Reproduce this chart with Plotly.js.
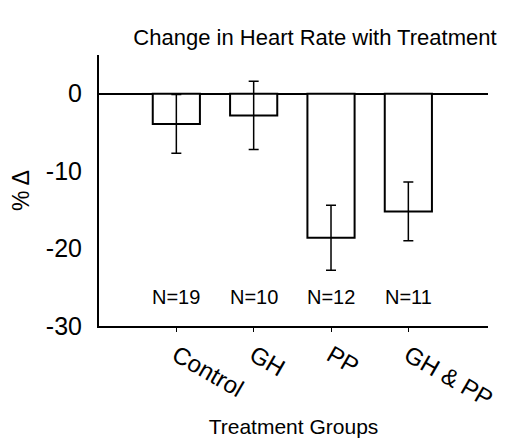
<!DOCTYPE html>
<html>
<head>
<meta charset="utf-8">
<script src="https://cdn.plot.ly/plotly-3.0.1.min.js"></script>
<style>html,body{margin:0;padding:0;background:#fff;}#chart{width:508px;height:447px;}</style>
</head>
<body>
<div id="chart"></div>
<script>
const groups = ["Control", "GH", "PP", "GH & PP"];
const pctChange = [-3.9, -2.8, -18.6, -15.2];
const errorSize = [3.8, 4.4, 4.2, 3.8];
const nLabels = ["N=19", "N=10", "N=12", "N=11"];
const nLabelY = -26.3;

const FONT = "Liberation Sans, Arial, Helvetica, sans-serif";

const trace = {
  type: "bar",
  x: groups,
  y: pctChange,
  width: 0.61,
  marker: { color: "#ffffff", line: { color: "#000000", width: 2 } },
  error_y: { type: "data", array: errorSize, visible: true, color: "#000000", thickness: 1.5, width: 5 },
  hoverinfo: "none"
};

const annotations = groups.map((g, i) => ({
  x: g, y: nLabelY, xref: "x", yref: "y", text: nLabels[i], showarrow: false,
  font: { family: FONT, size: 20, color: "#000" }
}));

const layout = {
  width: 508, height: 447,
  margin: { l: 99, r: 20, t: 55, b: 121 },
  paper_bgcolor: "#ffffff", plot_bgcolor: "#ffffff",
  showlegend: false,
  title: { text: "Change in Heart Rate with Treatment", font: { family: FONT, size: 22, color: "#000" }, x: 0.62, xanchor: "center", y: 0.917, yanchor: "middle" },
  xaxis: {
    type: "category", range: [-1, 4.03],
    showline: true, linecolor: "#000", linewidth: 2,
    ticks: "outside", ticklen: 4, tickcolor: "#000", tickwidth: 1,
    tickangle: 30, showgrid: false, zeroline: false,
    tickfont: { family: FONT, size: 24, color: "#000" },
    title: { text: "Treatment Groups", font: { family: FONT, size: 21, color: "#000" }, standoff: 8 }
  },
  yaxis: {
    range: [-30, 5], tickvals: [0, -10, -20, -30], ticktext: ["0", "-10", "-20", "-30"],
    showline: true, linecolor: "#000", linewidth: 2,
    ticks: "", showgrid: false, ticklabelstandoff: 10,
    zeroline: true, zerolinecolor: "#000", zerolinewidth: 2,
    tickfont: { family: FONT, size: 25, color: "#000" },
    title: { text: "% Δ", font: { family: FONT, size: 23, color: "#000" }, standoff: 10 }
  },
  annotations: annotations
};

Plotly.newPlot("chart", [trace], layout, { displayModeBar: false, staticPlot: true });
</script>
</body>
</html>
